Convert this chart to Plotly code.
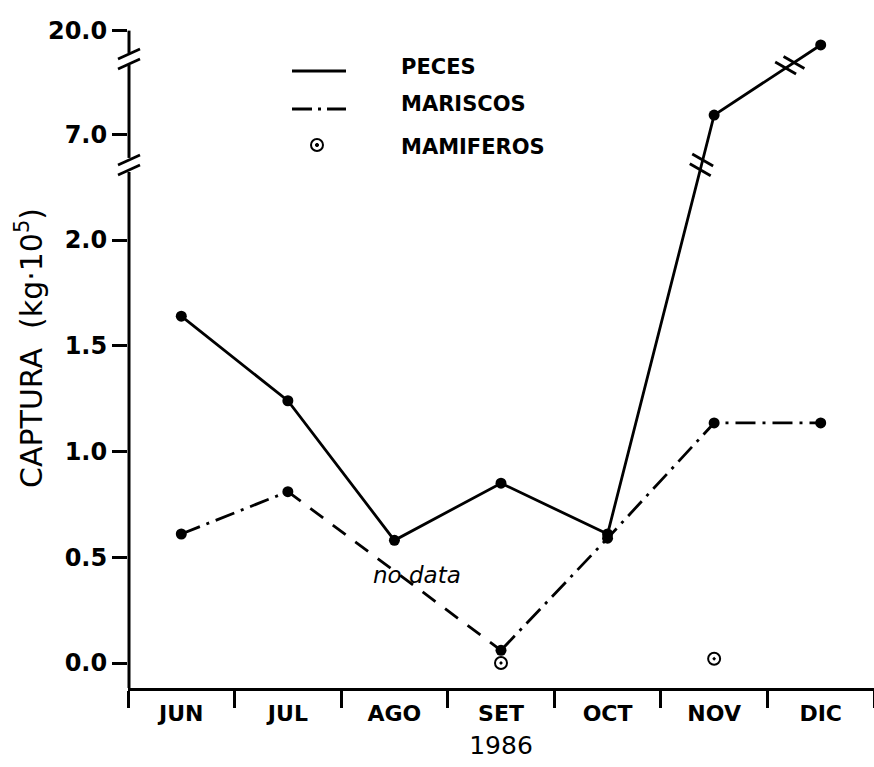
import plotly.graph_objects as go

# ---------------- data ----------------
months = ["JUN", "JUL", "AGO", "SET", "OCT", "NOV", "DIC"]
peces = [1.64, 1.24, 0.58, 0.85, 0.61, 9.4, 18.2]
mariscos = [0.61, 0.81, None, 0.06, 0.59, 1.135, 1.135]
mamiferos = [None, None, None, 0.0, None, 0.02, None]
ytick_values = [0.0, 0.5, 1.0, 1.5, 2.0, 7.0, 20.0]
ytick_labels = ["0.0", "0.5", "1.0", "1.5", "2.0", "7.0", "20.0"]
legend_names = ["PECES", "MARISCOS", "MAMIFEROS"]


# ---------------- broken y scale ----------------
def to_disp(v):
    if v is None:
        return None
    if v <= 2:
        return v
    if v <= 7:
        return 2 + (v - 2) * (0.50 / 5)
    return 2.50 + (v - 7) * (0.49 / 13)


W, H = 874, 767
ML, MR, MT, MB = 128, 0, 28, 79
PW, PH = W - ML - MR, H - MT - MB
Y0, Y1 = -0.1182, 3.0024
AX_BREAKS = [2.355, 2.856]
FONT = "DejaVu Sans"


def xpx(i):
    return ML + (i + 0.5) * PW / len(months)


def ypx(d):
    return MT + PH - (d - Y0) / (Y1 - Y0) * PH


def paper(X, Y):
    return (X - ML) / PW, (MT + PH - Y) / PH


def seg(X0, Ya, X1, Yb, width=2.8, dash="solid"):
    a = paper(X0, Ya)
    b = paper(X1, Yb)
    return dict(type="line", xref="paper", yref="paper", x0=a[0], y0=a[1], x1=b[0], y1=b[1],
                line=dict(color="black", width=width, dash=dash))


def bold(s):
    return "<b>" + s + "</b>"


fig = go.Figure()

pd_ = [to_disp(v) for v in peces]
md_ = [to_disp(v) for v in mariscos]
ad_ = [to_disp(v) for v in mamiferos]

# MARISCOS dash-dot
fig.add_trace(go.Scatter(x=months, y=md_, mode="lines+markers", name=legend_names[1],
                         connectgaps=False,
                         line=dict(color="black", width=2.8, dash="20px,7px,3px,7px"),
                         marker=dict(color="black", size=11)))
# MARISCOS "no data" stretch (dashed) between the known neighbours
fig.add_trace(go.Scatter(x=[months[1], months[3]], y=[md_[1], md_[3]], mode="lines",
                         showlegend=False,
                         line=dict(color="black", width=2.8, dash="16px,12px")))
# PECES solid
fig.add_trace(go.Scatter(x=months, y=pd_, mode="lines+markers", name=legend_names[0],
                         line=dict(color="black", width=2.8),
                         marker=dict(color="black", size=11)))
# MAMIFEROS
fig.add_trace(go.Scatter(x=months, y=ad_, mode="markers", name=legend_names[2],
                         marker=dict(symbol="circle-open-dot", color="black", size=12,
                                     line=dict(width=2, color="black"))))

shapes = []
# y-axis line with breaks
ax_x = ML + 1
lo, hi = AX_BREAKS
shapes.append(seg(ax_x, MT + PH, ax_x, ypx(lo) + 7, width=3))
shapes.append(seg(ax_x, ypx(lo) - 7, ax_x, ypx(hi) + 6, width=3))
shapes.append(seg(ax_x, ypx(hi) - 6, ax_x, ypx(to_disp(ytick_values[-1])), width=3))
# break slashes on axis
for b in AX_BREAKS:
    yc = ypx(b)
    for off in (-5, 5):
        shapes.append(seg(ax_x - 11, yc + off + 5, ax_x + 11, yc + off - 5, width=2.8))


# break marks on data lines
def line_break(i, j, level):
    xa, ya = xpx(i), ypx(pd_[i])
    xb, yb = xpx(j), ypx(pd_[j])
    t = (level - pd_[i]) / (pd_[j] - pd_[i])
    cx, cy = xa + t * (xb - xa), ya + t * (yb - ya)
    L = ((xb - xa) ** 2 + (yb - ya) ** 2) ** 0.5
    sx, sy = (xb - xa) / L, (yb - ya) / L
    ux, uy = 0.87, 0.5
    out = []
    for off in (-5, 5):
        mx, my = cx + off * sx, cy + off * sy
        out.append(seg(mx - 12 * ux, my - 12 * uy, mx + 12 * ux, my + 12 * uy, width=2.8))
    return out


shapes += line_break(4, 5, AX_BREAKS[0])
shapes += line_break(5, 6, AX_BREAKS[1] - 0.03)

# custom legend
shapes.append(seg(292, 71, 346, 71, width=2.8))
shapes.append(seg(292, 109, 346, 109, width=2.8, dash="20px,6px,3px,6px"))
c = paper(317, 145)
rx, ry = 6 / PW, 6 / PH
shapes.append(dict(type="circle", xref="paper", yref="paper", x0=c[0] - rx, x1=c[0] + rx,
                   y0=c[1] - ry, y1=c[1] + ry, line=dict(color="black", width=2)))
rx2, ry2 = 1.6 / PW, 1.6 / PH
shapes.append(dict(type="circle", xref="paper", yref="paper", x0=c[0] - rx2, x1=c[0] + rx2,
                   y0=c[1] - ry2, y1=c[1] + ry2, fillcolor="black", line=dict(color="black", width=1)))

annotations = []
for name, yy in zip(legend_names, [67, 104, 147]):
    p = paper(399, yy)
    annotations.append(dict(text=bold(name), xref="paper", yref="paper", x=p[0], y=p[1],
                            xanchor="left", yanchor="middle", showarrow=False,
                            font=dict(size=21, color="black", family=FONT)))
# no data note
p = paper(417, 575)
annotations.append(dict(text="<i>no data</i>", xref="paper", yref="paper", x=p[0], y=p[1],
                        xanchor="center", yanchor="middle", showarrow=False,
                        font=dict(size=23, color="black", family=FONT)))
# y title
p = paper(29, 348)
annotations.append(dict(text="CAPTURA\u00a0\u00a0(kg\u00b710<sup>5</sup>)", xref="paper", yref="paper",
                        x=p[0], y=p[1], xanchor="center", yanchor="middle", textangle=-90,
                        showarrow=False, font=dict(size=30, color="black", family=FONT)))

fig.update_layout(
    width=W, height=H,
    margin=dict(l=ML, r=MR, t=MT, b=MB),
    paper_bgcolor="white", plot_bgcolor="white",
    showlegend=False,
    font=dict(family=FONT, color="black", size=22),
    shapes=shapes, annotations=annotations,
    xaxis=dict(type="category", categoryorder="array", categoryarray=months,
               range=[-0.5, len(months) - 0.5],
               showline=True, linewidth=3, linecolor="black",
               ticks="outside", tickson="boundaries", ticklen=17, tickwidth=2.8, tickcolor="black",
               ticklabelstandoff=4,
               showgrid=False, zeroline=False,
               tickmode="array", tickvals=months, ticktext=[bold(m) for m in months],
               tickfont=dict(size=22, color="black"),
               title=dict(text="1986", font=dict(size=25, color="black"), standoff=12)),
    yaxis=dict(range=[Y0, Y1], tickmode="array",
               tickvals=[to_disp(v) for v in ytick_values], ticktext=[bold(t) for t in ytick_labels],
               ticks="outside", ticklen=15, tickwidth=2.8, tickcolor="black",
               showline=False, showgrid=False, zeroline=False,
               tickfont=dict(size=24, color="black")),
)

fig.write_html("out.html", config={"displayModeBar": False},
               post_script="document.body.style.margin='0';")
